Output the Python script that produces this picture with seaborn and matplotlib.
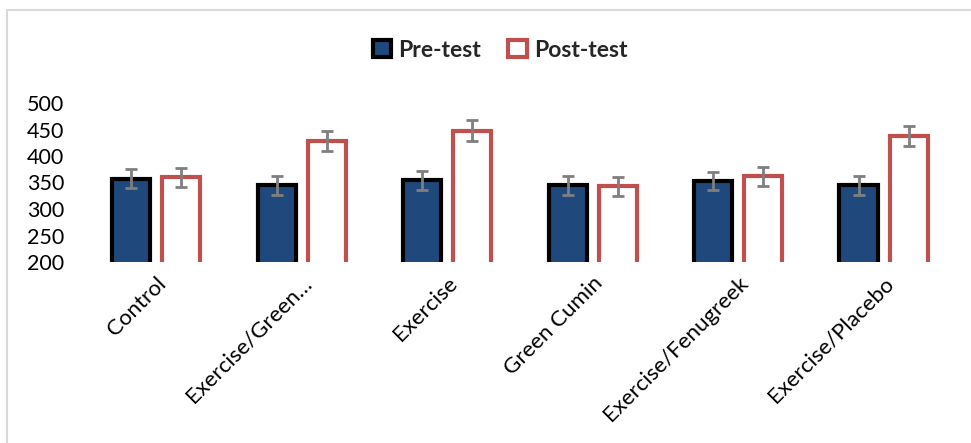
import matplotlib
matplotlib.use("Agg")
import matplotlib.pyplot as plt
from matplotlib.patches import Patch
from matplotlib.lines import Line2D
import seaborn as sns
import pandas as pd
import numpy as np

# values
groups = ["Control", "Exercise/Green\u2026", "Exercise", "Green Cumin",
          "Exercise/Fenugreek", "Exercise/Placebo"]
pre_test = [357, 345, 354, 345, 352, 345]
post_test = [360, 429, 448, 343, 362, 437]
pre_err = [18, 18, 18, 18, 17, 18]
post_err = [18, 19, 19, 18, 18, 19]
y_ticks = [200, 250, 300, 350, 400, 450, 500]

BLUE = "#1F497D"
RED = "#C0504D"
GREY = "#7F7F7F"

df = pd.DataFrame({
    "group": groups * 2,
    "test": ["Pre-test"] * len(groups) + ["Post-test"] * len(groups),
    "value": pre_test + post_test,
})

sns.set_theme(style="white")
plt.rcParams["font.family"] = ["Lato", "DejaVu Sans"]

fig = plt.figure(figsize=(9.71, 4.43), dpi=100)
ax = fig.add_axes([95 / 971, 1 - 262 / 443, (949 - 95) / 971, (262 - 103) / 443])

sns.barplot(data=df, x="group", y="value", hue="test", order=groups,
            hue_order=["Pre-test", "Post-test"], width=0.688, gap=0.24,
            palette=[BLUE, "white"], saturation=1, legend=False, ax=ax,
            errorbar=None)

# restyle bars + add error bars
edges = ["black", RED]
errs = [pre_err, post_err]
bar_sets = list(ax.containers)
for k, cont in enumerate(bar_sets):
    xs, ys = [], []
    for p in cont.patches:
        p.set_edgecolor(edges[k])
        p.set_linewidth(3.0)
        xs.append(p.get_x() + p.get_width() / 2)
        ys.append(p.get_height())
    ax.errorbar(xs, ys, yerr=errs[k], fmt="none", ecolor=GREY,
                elinewidth=2.0, capsize=4.5, capthick=2.0, zorder=5)

ax.set_ylim(200, 500)
ax.set_yticks(y_ticks)
ax.set_xlim(-0.42, 5.45)
ax.set_xlabel("")
ax.set_ylabel("")
for s in ax.spines.values():
    s.set_visible(False)
ax.tick_params(axis="y", length=0, pad=22, labelsize=15.5, labelcolor="black")
ax.tick_params(axis="x", length=0, pad=8, labelsize=16, labelcolor="black")
plt.setp(ax.get_xticklabels(), rotation=45, ha="right", rotation_mode="anchor")

handles = [Patch(facecolor=BLUE, edgecolor="black", linewidth=3.0, label="Pre-test"),
           Patch(facecolor="white", edgecolor=RED, linewidth=3.0, label="Post-test")]
fig.legend(handles=handles, loc="center", bbox_to_anchor=(0.515, 0.887), ncol=2,
           frameon=False, prop={"weight": "bold", "size": 16.5},
           handlelength=0.8, handleheight=0.8, handletextpad=0.3, columnspacing=1.2)

# light grey frame (top and left) like the exported chart
fig.add_artist(Line2D([7 / 971, 7 / 971, 1.0], [0.0, 1 - 9.5 / 443, 1 - 9.5 / 443],
                      transform=fig.transFigure, color="#D9D9D9", linewidth=1.5))

fig.savefig("out.png", dpi=100)
